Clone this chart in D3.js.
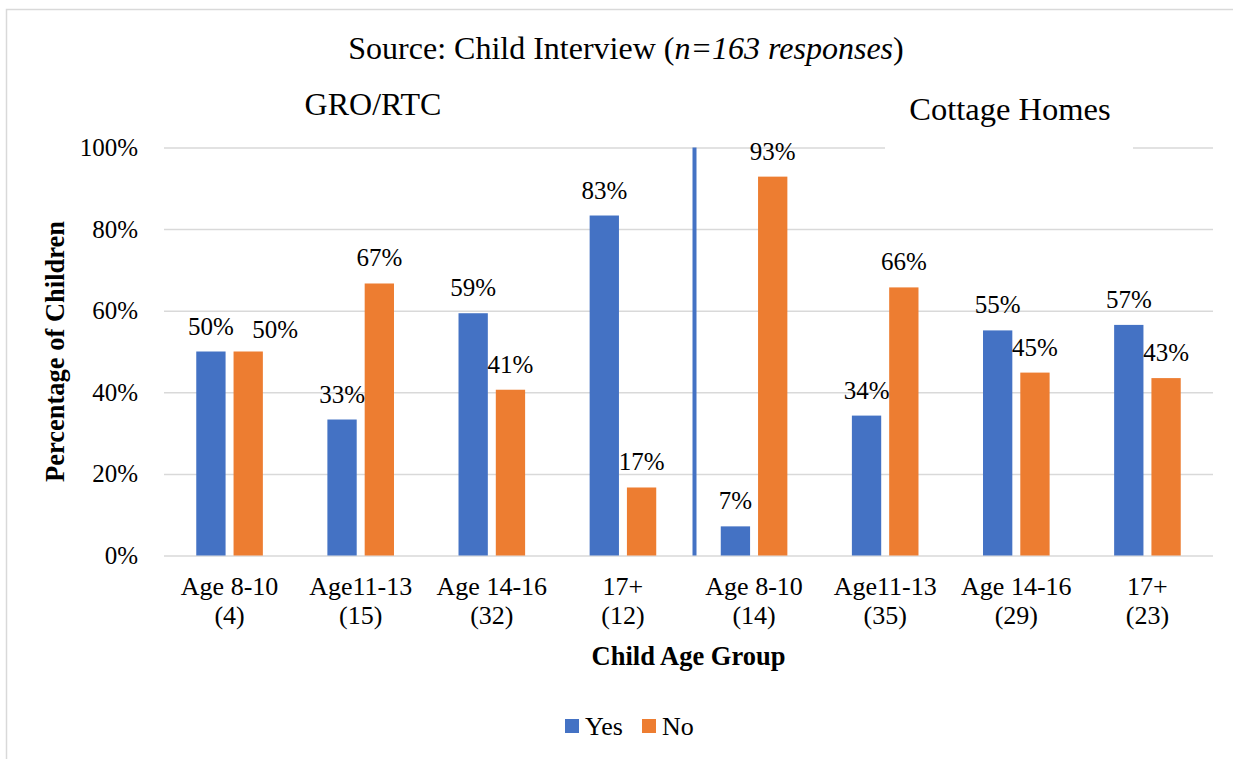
<!DOCTYPE html>
<html>
<head>
<meta charset="utf-8">
<script src="https://cdn.jsdelivr.net/npm/d3@7/dist/d3.min.js"></script>
<style>
  body { margin: 0; background: #fff; }
</style>
</head>
<body>
<div id="chart"></div>
<script>
// Chart data
const ageGroups = ["Age 8-10", "Age11-13", "Age 14-16", "17+", "Age 8-10", "Age11-13", "Age 14-16", "17+"];
const groupCounts = [4, 15, 32, 12, 14, 35, 29, 23];
const settingNames = ["GRO/RTC", "Cottage Homes"];
const seriesNames = ["Yes", "No"];
const yesValues = [50, 33.33, 59.38, 83.33, 7.14, 34.29, 55.17, 56.52];
const noValues = [50, 66.67, 40.63, 16.67, 92.86, 65.71, 44.83, 43.48];
const yTicks = [0, 20, 40, 60, 80, 100];

const colors = { Yes: "#4472C4", No: "#ED7D31" };
const serif = "'Liberation Serif'";

// Chart dimentions
let dimentions = {
  width: 1233,
  height: 759,
  margin: { top: 147.5, left: 164, right: 20, bottom: 203.5 }
};
const plotBottom = dimentions.height - dimentions.margin.bottom;
const plotRight = dimentions.width - dimentions.margin.right;

const svg = d3.select("#chart")
  .append("svg")
  .attr("width", dimentions.width)
  .attr("height", dimentions.height);

// outer frame (only top and left edges are visible in the picture)
svg.append("rect")
  .attr("x", 6.5).attr("y", 9.5)
  .attr("width", 1400).attr("height", 900)
  .attr("fill", "#fff")
  .attr("stroke", "#d9d9d9")
  .attr("stroke-width", 1.5);

// Scales
const x0 = d3.scaleBand()
  .domain(d3.range(ageGroups.length))
  .range([dimentions.margin.left, plotRight]);

const x1 = d3.scaleBand()
  .domain(seriesNames)
  .range([0, 66.6])
  .paddingInner(0.214);
const barOffset = (x0.bandwidth() - 66.6) / 2;

const y = d3.scaleLinear()
  .domain([0, 100])
  .range([plotBottom, dimentions.margin.top]);

// Y axis with gridlines
const yAxis = svg.append("g")
  .attr("transform", `translate(${dimentions.margin.left},0)`)
  .call(d3.axisLeft(y)
    .tickValues(yTicks)
    .tickFormat(d => d + "%")
    .tickSize(-(plotRight - dimentions.margin.left))
    .tickPadding(26));
yAxis.select(".domain").remove();
yAxis.selectAll(".tick line")
  .attr("stroke", "#d9d9d9")
  .attr("stroke-width", 1.5);
yAxis.selectAll(".tick text")
  .style("font-size", "25px");

// X axis with two line labels
const xAxis = svg.append("g")
  .attr("transform", `translate(0,${plotBottom})`)
  .call(d3.axisBottom(x0).tickSize(0).tickFormat(""));
xAxis.select(".domain").remove();
xAxis.selectAll(".tick text").remove();
xAxis.selectAll(".tick").each(function(i) {
  const t = d3.select(this).append("text")
    .attr("text-anchor", "middle")
    .style("font-size", "26px");
  t.append("tspan").attr("x", 0).attr("y", 39.5).text(ageGroups[i]);
  t.append("tspan").attr("x", 0).attr("y", 68.5).text("(" + groupCounts[i] + ")");
});

// Bars
const rows = ageGroups.map(function(g, i) {
  return { index: i, values: [
    { key: "Yes", value: yesValues[i] },
    { key: "No", value: noValues[i] }
  ] };
});

const groups = svg.selectAll(".group")
  .data(rows)
  .enter()
  .append("g")
  .attr("class", "group")
  .attr("transform", d => `translate(${x0(d.index) + barOffset},0)`);

groups.selectAll("rect")
  .data(d => d.values)
  .enter()
  .append("rect")
  .attr("x", d => x1(d.key))
  .attr("y", d => y(d.value))
  .attr("width", x1.bandwidth())
  .attr("height", d => y(0) - y(d.value))
  .attr("fill", d => colors[d.key]);

// Data labels (second label of first group was dragged to the right in the original)
groups.selectAll(".label")
  .data(d => d.values.map(v => Object.assign({ index: d.index }, v)))
  .enter()
  .append("text")
  .attr("class", "label")
  .attr("text-anchor", "middle")
  .style("font-size", "25px")
  .attr("x", d => x1(d.key) + x1.bandwidth() / 2 + (d.index === 0 && d.key === "No" ? 27 : 0))
  .attr("y", d => y(d.value) - 17 + (d.index === 0 && d.key === "No" ? 3 : 0))
  .text(d => Math.round(d.value) + "%");

// Separator between the two settings
svg.append("line")
  .attr("x1", x0(4) + 6).attr("x2", x0(4) + 6)
  .attr("y1", y(100)).attr("y2", y(0))
  .attr("stroke", colors.Yes)
  .attr("stroke-width", 4);

// Title
const title = svg.append("text")
  .attr("x", 626).attr("y", 59)
  .attr("text-anchor", "middle")
  .style("font-size", "32px");
title.append("tspan").text("Source: Child Interview (");
title.append("tspan").style("font-style", "italic").text("n=163 responses");
title.append("tspan").text(")");

// Setting labels
svg.append("text")
  .attr("x", 373).attr("y", 115)
  .attr("text-anchor", "middle")
  .style("font-size", "32px")
  .text(settingNames[0]);

svg.append("rect")
  .attr("x", 885).attr("y", 90)
  .attr("width", 248).attr("height", 59)
  .attr("fill", "#fff");
svg.append("text")
  .attr("x", 1010).attr("y", 120)
  .attr("text-anchor", "middle")
  .style("font-size", "32.5px")
  .text(settingNames[1]);

// Axis titles
svg.append("text")
  .attr("transform", `translate(64,${(y(0) + y(100)) / 2}) rotate(-90)`)
  .attr("text-anchor", "middle")
  .style("font-size", "26.5px")
  .style("font-weight", "bold")
  .text("Percentage of Children");

svg.append("text")
  .attr("x", (dimentions.margin.left + plotRight) / 2)
  .attr("y", 665)
  .attr("text-anchor", "middle")
  .style("font-size", "26.5px")
  .style("font-weight", "bold")
  .text("Child Age Group");

// Legend
const legendX = [565, 642];
const legendItem = svg.selectAll(".legend-item")
  .data(seriesNames)
  .enter()
  .append("g")
  .attr("class", "legend-item")
  .attr("transform", (d, i) => `translate(${legendX[i]},719)`);

legendItem.append("rect")
  .attr("width", 14)
  .attr("height", 14)
  .attr("fill", d => colors[d]);

legendItem.append("text")
  .attr("x", 20)
  .attr("y", 16)
  .style("font-size", "26px")
  .text(d => d);

// every text in serif, set inline
svg.selectAll("text")
  .style("font-family", serif)
  .attr("fill", "#000");
</script>
</body>
</html>
